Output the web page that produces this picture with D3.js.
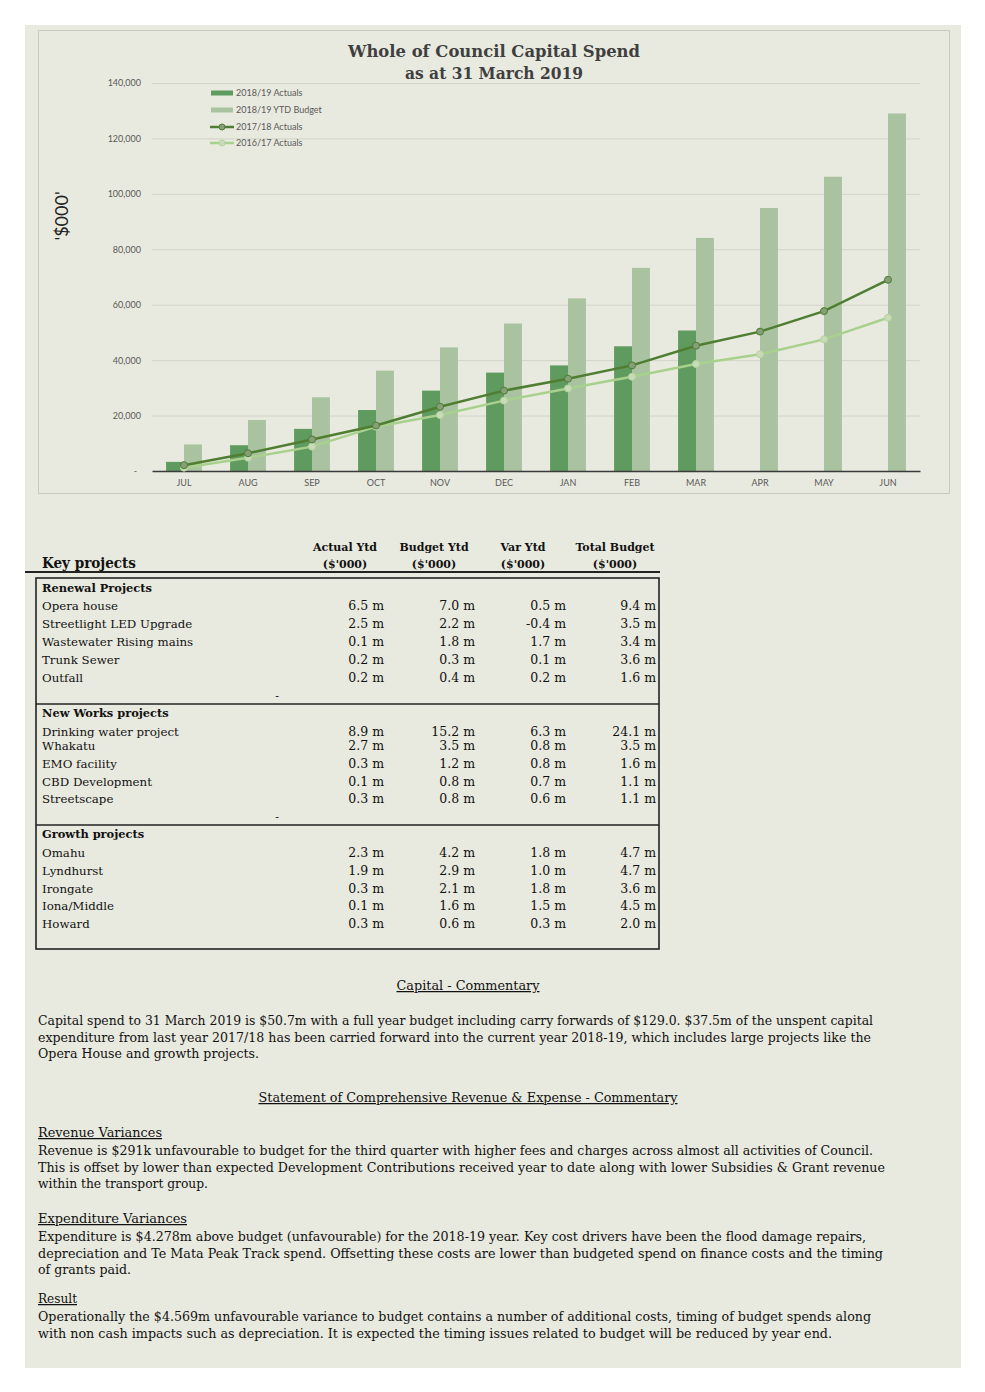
<!DOCTYPE html>
<html><head><meta charset="utf-8">
<script src="https://cdn.jsdelivr.net/npm/d3@7"></script>
<style>
html,body{margin:0;padding:0;background:#fff;}
svg{display:block;}
</style></head>
<body>
<svg id="c" width="985" height="1392"></svg>
<script>
// ---------- DATA ----------
const months = ["JUL","AUG","SEP","OCT","NOV","DEC","JAN","FEB","MAR","APR","MAY","JUN"];
const actuals1819 = [3300, 9300, 15200, 22000, 29000, 35500, 38100, 45000, 50700, null, null, null];
const budget1819 = [9600, 18400, 26600, 36200, 44600, 53200, 62300, 73300, 84100, 94900, 106200, 129000];
const actuals1718 = [2100, 6400, 11400, 16400, 23200, 29000, 33300, 38100, 45200, 50300, 57700, 69000];
const actuals1617 = [1200, 4800, 8800, 16000, 20200, 25400, 29800, 34000, 38600, 42100, 47500, 55300];
const yTicks = [0, 20000, 40000, 60000, 80000, 100000, 120000, 140000];
const legendLabels = ["2018/19 Actuals","2018/19 YTD Budget","2017/18 Actuals","2016/17 Actuals"];

const tableHeaders = [["Actual Ytd","($'000)"],["Budget Ytd","($'000)"],["Var Ytd","($'000)"],["Total Budget","($'000)"]];
const sectionNames = ["Renewal Projects","New Works projects","Growth projects"];
const renewalRows = [
  ["Opera house","6.5 m","7.0 m","0.5 m","9.4 m"],
  ["Streetlight LED Upgrade","2.5 m","2.2 m","-0.4 m","3.5 m"],
  ["Wastewater Rising mains","0.1 m","1.8 m","1.7 m","3.4 m"],
  ["Trunk Sewer","0.2 m","0.3 m","0.1 m","3.6 m"],
  ["Outfall","0.2 m","0.4 m","0.2 m","1.6 m"]];
const newWorksRows = [
  ["Drinking water project","8.9 m","15.2 m","6.3 m","24.1 m"],
  ["Whakatu","2.7 m","3.5 m","0.8 m","3.5 m"],
  ["EMO facility","0.3 m","1.2 m","0.8 m","1.6 m"],
  ["CBD Development","0.1 m","0.8 m","0.7 m","1.1 m"],
  ["Streetscape","0.3 m","0.8 m","0.6 m","1.1 m"]];
const growthRows = [
  ["Omahu","2.3 m","4.2 m","1.8 m","4.7 m"],
  ["Lyndhurst","1.9 m","2.9 m","1.0 m","4.7 m"],
  ["Irongate","0.3 m","2.1 m","1.8 m","3.6 m"],
  ["Iona/Middle","0.1 m","1.6 m","1.5 m","4.5 m"],
  ["Howard","0.3 m","0.6 m","0.3 m","2.0 m"]];

const capitalText = [
  "Capital spend to 31 March 2019 is $50.7m with a full year budget including carry forwards of $129.0. $37.5m of the unspent capital",
  "expenditure from last year 2017/18 has been carried forward into the current year 2018-19, which includes large projects like the",
  "Opera House and growth projects."];
const revenueText = [
  "Revenue is $291k unfavourable to budget for the third quarter with higher fees and charges across almost all activities of Council.",
  "This is offset by lower than expected Development Contributions received year to date along with lower Subsidies & Grant revenue",
  "within the transport group."];
const expenditureText = [
  "Expenditure is $4.278m above budget (unfavourable) for the 2018-19 year.  Key cost drivers have been  the flood damage repairs,",
  "depreciation and Te Mata Peak Track spend.   Offsetting these costs are lower than budgeted spend on finance costs and the timing",
  "of grants paid."];
const resultText = [
  "Operationally the $4.569m unfavourable variance to budget contains a number of additional costs, timing of budget spends along",
  "with non cash impacts such as depreciation.  It is expected the timing issues related to budget will be reduced by year end."];

// ---------- DRAW ----------
const svg = d3.select("#c");
const SERIF = "'DejaVu Serif', 'Liberation Serif', serif";
const SANS = "Lato, 'Open Sans', sans-serif";
const BG = "#e9eadf";

svg.append("rect").attr("x",25).attr("y",25).attr("width",936).attr("height",1343).attr("fill",BG);
svg.append("rect").attr("x",38.5).attr("y",30.5).attr("width",911).attr("height",463)
  .attr("fill","none").attr("stroke","#c9cabe").attr("stroke-width",1);

// title
svg.append("text").attr("x",494).attr("y",57).attr("text-anchor","middle")
  .attr("font-family",SERIF).attr("font-weight","bold").attr("font-size",16.5).attr("fill","#3f3f3f")
  .attr("textLength",292).attr("lengthAdjust","spacingAndGlyphs").text("Whole of Council Capital Spend");
svg.append("text").attr("x",494).attr("y",79).attr("text-anchor","middle")
  .attr("font-family",SERIF).attr("font-weight","bold").attr("font-size",16.5).attr("fill","#3f3f3f")
  .attr("textLength",178).attr("lengthAdjust","spacingAndGlyphs").text("as at 31 March 2019");

const y = d3.scaleLinear().domain([0,140000]).range([471,83]);
const x0 = d3.scaleBand().domain(months).range([152,920]).paddingInner(0.44).paddingOuter(0.22);
const x1 = d3.scaleBand().domain(["a","b"]).range([0,x0.bandwidth()]);
const cx = m => x0(m) + x0.bandwidth()/2;

// gridlines
const yAxis = d3.axisLeft(y).tickValues(yTicks).tickSize(-768)
  .tickFormat(d => d===0 ? "-" : d3.format(",")(d));
const gy = svg.append("g").attr("transform","translate(152,0)").call(yAxis);
gy.select(".domain").remove();
gy.selectAll(".tick line").attr("stroke","#d3d4c8").attr("stroke-width",1)
  .filter(d=>d===0).remove();
gy.selectAll(".tick text").attr("x",-11).attr("font-family",SANS).attr("font-size",9).attr("fill","#595959");
gy.selectAll(".tick").filter(d=>d===0).select("text").attr("x",-15);

// y label
svg.append("text").attr("transform","translate(68,216) rotate(-90)").attr("text-anchor","middle")
  .attr("font-family",SANS).attr("font-size",18).attr("fill","#222").text("'$000'");

// bars
svg.append("g").selectAll("rect").data(months.map((m,i)=>({m,v:actuals1819[i]})).filter(d=>d.v!=null))
  .join("rect").attr("x",d=>x0(d.m)+x1("a")).attr("width",x1.bandwidth())
  .attr("y",d=>y(d.v)).attr("height",d=>y(0)-y(d.v)).attr("fill","#5f9b5f");
svg.append("g").selectAll("rect").data(months.map((m,i)=>({m,v:budget1819[i]})))
  .join("rect").attr("x",d=>x0(d.m)+x1("b")).attr("width",x1.bandwidth())
  .attr("y",d=>y(d.v)).attr("height",d=>y(0)-y(d.v)).attr("fill","#a9c3a0");

// x axis
const xAxis = d3.axisBottom(x0).tickSize(0).tickPadding(9);
const gx = svg.append("g").attr("transform","translate(0,471)").call(xAxis);
gx.select(".domain").attr("stroke","#3a3a3a").attr("stroke-width",1.6);
gx.selectAll(".tick text").attr("font-family",SANS).attr("font-size",9).attr("fill","#595959");

// lines
const line = d3.line().x(d=>cx(d.m)).y(d=>y(d.v));
const l17 = months.map((m,i)=>({m,v:actuals1617[i]}));
const l18 = months.map((m,i)=>({m,v:actuals1718[i]}));
svg.append("path").datum(l17).attr("d",line).attr("fill","none").attr("stroke","#a8d18d").attr("stroke-width",2.5);
svg.append("g").selectAll("circle").data(l17).join("circle").attr("cx",d=>cx(d.m)).attr("cy",d=>y(d.v)).attr("r",3.5)
  .attr("fill","#c9dbb9").attr("stroke","#b7d3a0").attr("stroke-width",1);
svg.append("path").datum(l18).attr("d",line).attr("fill","none").attr("stroke","#4f7d31").attr("stroke-width",2.5);
svg.append("g").selectAll("circle").data(l18).join("circle").attr("cx",d=>cx(d.m)).attr("cy",d=>y(d.v)).attr("r",3.5)
  .attr("fill","#869f78").attr("stroke","#4f7d31").attr("stroke-width",1);

// legend
const lg = svg.append("g");
const ly = [93,110,127,143];
lg.append("rect").attr("x",211).attr("y",ly[0]-2.5).attr("width",22).attr("height",5).attr("fill","#5f9b5f");
lg.append("rect").attr("x",211).attr("y",ly[1]-2.5).attr("width",22).attr("height",5).attr("fill","#a9c3a0");
lg.append("line").attr("x1",210).attr("x2",234).attr("y1",ly[2]).attr("y2",ly[2]).attr("stroke","#4f7d31").attr("stroke-width",2.5);
lg.append("circle").attr("cx",222).attr("cy",ly[2]).attr("r",3).attr("fill","#869f78").attr("stroke","#4f7d31");
lg.append("line").attr("x1",210).attr("x2",234).attr("y1",ly[3]).attr("y2",ly[3]).attr("stroke","#a8d18d").attr("stroke-width",2.5);
lg.append("circle").attr("cx",222).attr("cy",ly[3]).attr("r",3).attr("fill","#c9dbb9").attr("stroke","#b7d3a0");
lg.selectAll("text").data(legendLabels).join("text").attr("x",236).attr("y",(d,i)=>ly[i]+3.2)
  .attr("font-family",SANS).attr("font-size",9).attr("fill","#595959").text(d=>d);

// ---------- TABLE ----------
const tg = svg.append("g").attr("font-family",SERIF).attr("fill","#111");
tg.append("text").attr("x",42).attr("y",568).attr("font-weight","bold").attr("font-size",14)
  .attr("textLength",94).attr("lengthAdjust","spacingAndGlyphs").text("Key projects");
const colCenters = [345,434,523,615];
const colRights = [384,475,566,656];
tableHeaders.forEach((h,i)=>{
  tg.append("text").attr("x",colCenters[i]).attr("y",551).attr("text-anchor","middle").attr("font-weight","bold").attr("font-size",11).text(h[0]);
  tg.append("text").attr("x",colCenters[i]).attr("y",568).attr("text-anchor","middle").attr("font-weight","bold").attr("font-size",11).text(h[1]);
});
svg.append("line").attr("x1",25).attr("x2",660).attr("y1",572).attr("y2",572).attr("stroke","#222").attr("stroke-width",2);
svg.append("rect").attr("x",36).attr("y",578).attr("width",623).attr("height",371).attr("fill","none").attr("stroke","#222").attr("stroke-width",1.6);
svg.append("line").attr("x1",36).attr("x2",659).attr("y1",704).attr("y2",704).attr("stroke","#222").attr("stroke-width",1.6);
svg.append("line").attr("x1",36).attr("x2",659).attr("y1",825).attr("y2",825).attr("stroke","#222").attr("stroke-width",1.6);

const sections = [
  {name:sectionNames[0], y:588, rows:renewalRows, ys:[605,623,641,659,677], dash:696},
  {name:sectionNames[1], y:713, rows:newWorksRows, ys:[731,745,763,781,798], dash:817},
  {name:sectionNames[2], y:834, rows:growthRows, ys:[852,870,888,905,923], dash:null}];
sections.forEach(s=>{
  tg.append("text").attr("x",42).attr("y",s.y+4).attr("font-weight","bold").attr("font-size",11.4).text(s.name);
  s.rows.forEach((r,i)=>{
    tg.append("text").attr("x",42).attr("y",s.ys[i]+4.5).attr("font-size",11.8).text(r[0]);
    for(let c=1;c<5;c++){
      tg.append("text").attr("x",colRights[c-1]).attr("y",s.ys[i]+4.5).attr("text-anchor","end").attr("font-size",12.5).text(r[c]);
    }
  });
  if(s.dash) tg.append("text").attr("x",277).attr("y",s.dash+4).attr("text-anchor","middle").attr("font-size",11).text("-");
});

// ---------- COMMENTARY ----------
const cg = svg.append("g").attr("font-family",SERIF).attr("fill","#111").attr("font-size",12.5);
function heading(txt,x,yy,anchor,w){
  cg.append("text").attr("x",x).attr("y",yy).attr("text-anchor",anchor).attr("text-decoration","underline")
    .attr("textLength",w).attr("lengthAdjust","spacingAndGlyphs").text(txt);
}
function para(lines,yy,widths){
  lines.forEach((l,i)=>{
    cg.append("text").attr("x",38).attr("y",yy+i*16.7).attr("textLength",widths[i]).attr("lengthAdjust","spacingAndGlyphs").text(l);
  });
}
heading("Capital - Commentary",468,990,"middle",143);
para(capitalText,1025,[835,833,221]);
heading("Statement of Comprehensive Revenue & Expense  - Commentary",468,1102,"middle",419);
heading("Revenue Variances",38,1137,"start",124);
para(revenueText,1155,[835,847,170]);
heading("Expenditure Variances",38,1223,"start",149);
para(expenditureText,1241,[828,845,93]);
heading("Result",38,1303,"start",39);
para(resultText,1321,[833,794]);
</script>
</body></html>
